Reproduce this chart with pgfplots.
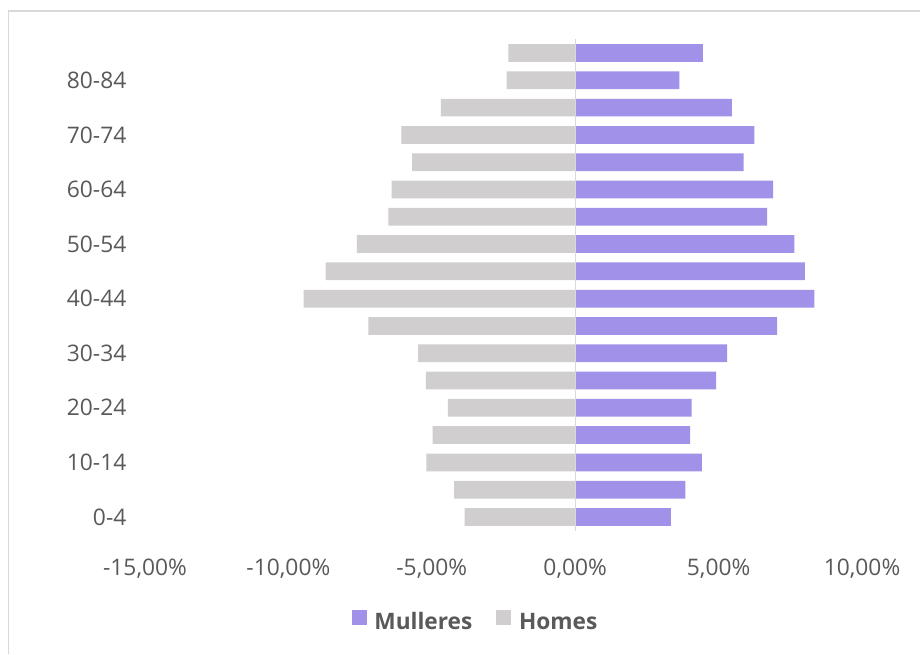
\documentclass[border=0pt]{standalone}
\usepackage{fontspec}
\setmainfont{Open Sans}
\usepackage{pgfplots}
\pgfplotsset{compat=1.18}
\definecolor{mul}{HTML}{A291E8}
\definecolor{hom}{HTML}{D0CECE}
\definecolor{txt}{HTML}{595959}
\definecolor{frm}{HTML}{D9D9D9}
\begin{document}
\begin{tikzpicture}
\useasboundingbox (0pt,0pt) rectangle (690pt,-490.5pt);
\draw[frm, line width=1pt] (6.375pt,-490.5pt) -- (6.375pt,-8.25pt) -- (690pt,-8.25pt);
\begin{axis}[
  at={(108.75pt,-397.95pt)}, anchor=south west,
  scale only axis, width=537.75pt, height=368.4pt,
  xmin=-15, xmax=10, ymin=-0.5, ymax=17.5,
  xbar, bar width=13.3pt,
  axis line style={draw=none}, tick style={draw=none},
  xtick={-15,-10,-5,0,5,10},
  xticklabels={{-15,00\%},{-10,00\%},{-5,00\%},{0,00\%},{5,00\%},{10,00\%}},
  ytick={0,2,4,6,8,10,12,14,16},
  yticklabels={0-4,10-14,20-24,30-34,40-44,50-54,60-64,70-74,80-84},
  ticklabel style={font=\fontsize{17.1pt}{20pt}\selectfont, text=txt, inner sep=0pt},
  xticklabel style={anchor=base, yshift=-33.3pt},
  yticklabel style={anchor=east, xshift=-9.5pt},
  legend columns=2,
  legend style={at={(0.4596,-0.184)}, anchor=center, draw=none, fill=none,
    font=\fontsize{17pt}{20pt}\selectfont\bfseries, text=txt,
    nodes={inner sep=0pt}, column sep=5.8pt,
    /tikz/every even column/.append style={column sep=18pt}},
  legend image code/.code={\fill[#1] (0pt,-2.5pt) rectangle (11.25pt,8.75pt);},
]
\addplot[fill=mul, draw=none, bar shift=0pt] coordinates {
(3.34,0) (3.84,1) (4.42,2) (4.01,3) (4.06,4) (4.91,5) (5.30,6) (7.04,7) (8.34,8)
(8.01,9) (7.64,10) (6.69,11) (6.90,12) (5.87,13) (6.25,14) (5.46,15) (3.63,16) (4.45,17)};
\addlegendentry{Mulleres}
\addplot[fill=hom, draw=none, bar shift=0pt] coordinates {
(-3.86,0) (-4.22,1) (-5.19,2) (-4.97,3) (-4.44,4) (-5.21,5) (-5.48,6) (-7.21,7) (-9.47,8)
(-8.70,9) (-7.61,10) (-6.51,11) (-6.40,12) (-5.69,13) (-6.06,14) (-4.68,15) (-2.39,16) (-2.33,17)};
\addlegendentry{Homes}
\draw[frm, line width=1pt] (axis cs:0,-0.5) -- (axis cs:0,17.5);
\end{axis}
\end{tikzpicture}
\end{document}
